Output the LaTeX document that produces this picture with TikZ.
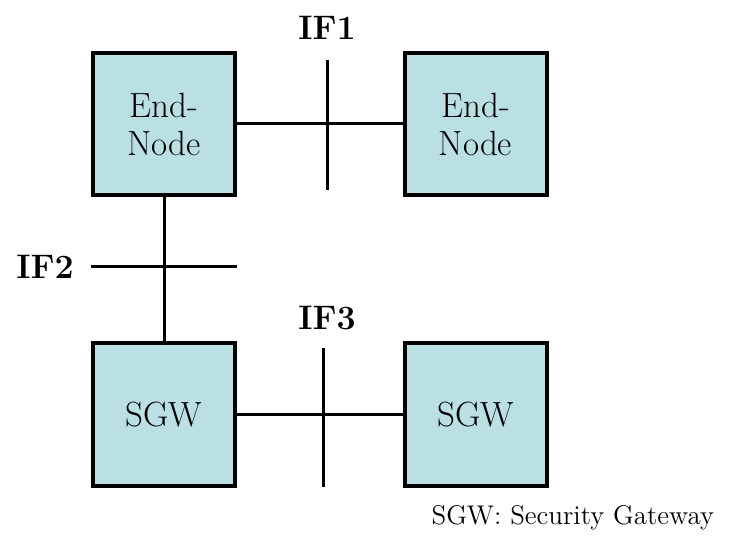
\documentclass[tikz,border=0pt]{standalone}
\usepackage{tikz}

\begin{document}
\begin{tikzpicture}[x=0.5pt,y=-0.5pt,
        box/.style={draw, line width=2pt, fill=boxcolor, minimum size=71pt, inner sep=0pt, align=center, font=\fontsize{17.5}{19}\selectfont},
        link/.style={line width=1.5pt},
        iflabel/.style={font=\fontsize{17}{20}\selectfont\bfseries}]
        % Define colors
        \definecolor{boxcolor}{RGB}{186,224,228} % light cyan

        % Fix page size
        \useasboundingbox (0,0) rectangle (735,540);

        % Draw boxes
        \node[box] (en1) at (164,124) {End-\\Node};
        \node[box] (en2) at (475.5,124) {End-\\Node};
        \node[box] (sgw1) at (164,414.5) {SGW};
        \node[box] (sgw2) at (475.5,414.5) {SGW};

        % Draw links
        \draw[link] (en1) -- (en2);
        \draw[link] (en1) -- (sgw1);
        \draw[link] (sgw1) -- (sgw2);

        % Draw interface marks
        \coordinate (if1a) at (327,60);
        \coordinate (if1b) at (327,190);
        \coordinate (if2a) at (91,267);
        \coordinate (if2b) at (237,267);
        \coordinate (if3a) at (323,348);
        \coordinate (if3b) at (323,487);
        \draw[link] (if1a) -- (if1b);
        \draw[link] (if2a) -- (if2b);
        \draw[link] (if3a) -- (if3b);

        % Label interfaces
        \node[iflabel] (if1) at (327,28) {IF1};
        \node[iflabel] (if2) at (45,267) {IF2};
        \node[iflabel] (if3) at (327,318) {IF3};

        % Legend
        \node[anchor=east, font=\fontsize{13.5}{16}\selectfont] (legend) at (721,518) {SGW: Security Gateway};
    \end{tikzpicture}
\end{document}
